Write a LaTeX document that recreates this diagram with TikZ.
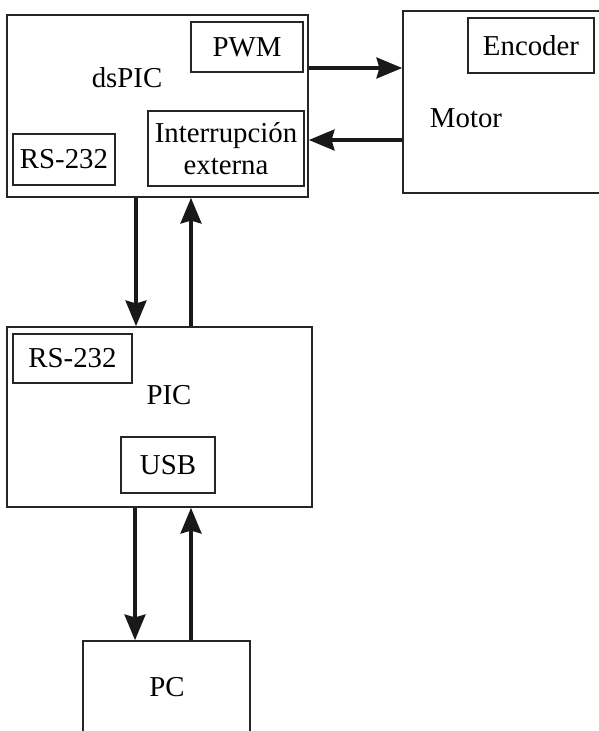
\documentclass[tikz,border=0pt]{standalone}
\usepackage{fontspec}
\setmainfont{Liberation Serif}
\usetikzlibrary{arrows.meta}
\begin{document}
\begin{tikzpicture}[x=0.025cm,y=-0.025cm,
  box/.style={draw=black!85, line width=1.1pt, inner sep=0pt, align=center},
  lbl/.style={inner sep=0pt},
  arr/.style={line width=2.7pt, black!90, -{Stealth[length=0.64cm,width=0.52cm,inset=0.07cm]}},
  every node/.style={font=\fontsize{20.5}{23}\selectfont}]

\clip (0,0) rectangle (599,731);

\node[box, minimum width=7.525cm, minimum height=4.55cm] (dspic) at (157.5,106) {};
\node[lbl] (dspiclbl) at (127,78) {dsPIC};
\node[box, minimum width=2.8cm, minimum height=1.25cm] (pwm) at (247,47) {PWM};
\node[box, minimum width=3.9cm, minimum height=1.875cm] (intr) at (226,148.5) {Interrupción\\externa};
\node[box, minimum width=2.55cm, minimum height=1.275cm] (rsa) at (64,159.5) {RS-232};

\node[box, minimum width=5.425cm, minimum height=4.55cm] (motor) at (511.5,102) {};
\node[lbl] (motorlbl) at (466,118) {Motor};
\node[box, minimum width=3.15cm, minimum height=1.375cm] (enc) at (531,45.5) {Encoder};

\node[box, minimum width=7.625cm, minimum height=4.5cm] (pic) at (159.5,417) {};
\node[lbl] (piclbl) at (169,395) {PIC};
\node[box, minimum width=2.975cm, minimum height=1.225cm] (rsb) at (72.5,358.5) {RS-232};
\node[box, minimum width=2.35cm, minimum height=1.4cm] (usb) at (168,465) {USB};

\node[box, minimum width=4.175cm, minimum height=2.95cm] (pc) at (166.5,700) {};
\node[lbl] (pclbl) at (167,687) {PC};

\draw[arr] (dspic.east |- 0,68) -- (motor.west |- 0,68);
\draw[arr] (motor.west |- 0,140) -- (dspic.east |- 0,140);
\draw[arr] (dspic.south -| 136,0) -- (pic.north -| 136,0);
\draw[arr] (pic.north -| 191,0) -- (dspic.south -| 191,0);
\draw[arr] (pic.south -| 135,0) -- (pc.north -| 135,0);
\draw[arr] (pc.north -| 191,0) -- (pic.south -| 191,0);
\end{tikzpicture}
\end{document}
